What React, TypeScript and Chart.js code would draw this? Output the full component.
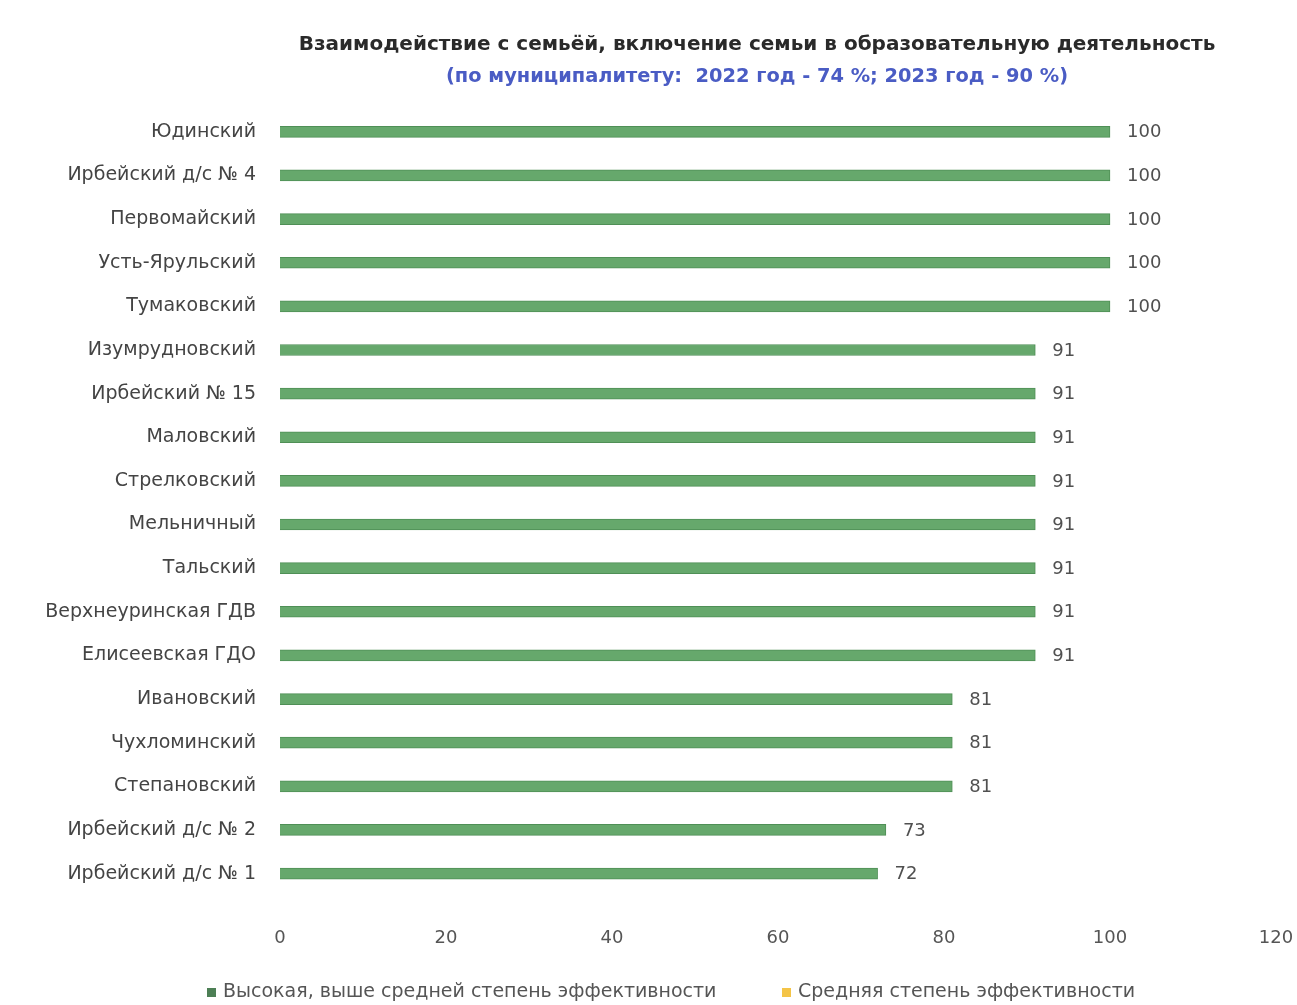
import React, { useEffect, useRef } from "react";
import { Chart, registerables } from "chart.js";

Chart.register(...registerables);

const TITLE = "Взаимодействие с семьёй, включение семьи в образовательную деятельность";
const SUBTITLE = "(по муниципалитету:  2022 год - 74 %; 2023 год - 90 %)";

const categories = [
  "Юдинский",
  "Ирбейский д/с № 4",
  "Первомайский",
  "Усть-Ярульский",
  "Тумаковский",
  "Изумрудновский",
  "Ирбейский № 15",
  "Маловский",
  "Стрелковский",
  "Мельничный",
  "Тальский",
  "Верхнеуринская ГДВ",
  "Елисеевская ГДО",
  "Ивановский",
  "Чухломинский",
  "Степановский",
  "Ирбейский д/с № 2",
  "Ирбейский д/с № 1",
];

const highValues = [100, 100, 100, 100, 100, 91, 91, 91, 91, 91, 91, 91, 91, 81, 81, 81, 73, 72];
const mediumValues: (number | null)[] = categories.map(() => null);

const seriesNames = [
  "Высокая, выше средней степень эффективности",
  "Средняя степень эффективности",
];

const xTicks = [0, 20, 40, 60, 80, 100, 120];

const FONT = "'DejaVu Sans', 'Noto Sans', sans-serif";

const valueLabels = {
  id: "valueLabels",
  afterDatasetsDraw(chart: any) {
    const ctx = chart.ctx;
    const meta = chart.getDatasetMeta(0);
    const data = chart.data.datasets[0].data;
    ctx.save();
    ctx.font = `18px ${FONT}`;
    ctx.fillStyle = "#505050";
    ctx.textAlign = "left";
    ctx.textBaseline = "middle";
    meta.data.forEach((bar: any, i: number) => {
      ctx.fillText(String(data[i]), bar.x + 17, bar.y + 1);
    });
    ctx.restore();
  },
};

const header = {
  id: "header",
  afterDraw(chart: any) {
    const ctx = chart.ctx;
    ctx.save();
    ctx.textAlign = "center";
    ctx.textBaseline = "middle";
    ctx.font = `bold 20px ${FONT}`;
    ctx.fillStyle = "#2a2a2a";
    ctx.fillText(TITLE, 757, 45);
    ctx.font = `bold 19.4px ${FONT}`;
    ctx.fillStyle = "#4a5cc4";
    ctx.fillText(SUBTITLE, 757, 77);
    ctx.restore();
  },
};

const bottomLegend = {
  id: "bottomLegend",
  afterDraw(chart: any) {
    const ctx = chart.ctx;
    const positions = [207, 782];
    ctx.save();
    ctx.font = `19px ${FONT}`;
    ctx.textBaseline = "middle";
    chart.data.datasets.forEach((ds: any, i: number) => {
      const x = positions[i];
      const y = 992;
      ctx.fillStyle = ds.legendColor;
      ctx.fillRect(x, y - 4, 9, 9);
      ctx.fillStyle = "#555555";
      ctx.textAlign = "left";
      ctx.fillText(ds.label, x + 16, y);
    });
    ctx.restore();
  },
};

export default function App() {
  const canvasRef = useRef<HTMLCanvasElement | null>(null);

  useEffect(() => {
    document.body.style.margin = "0";
    const canvas = canvasRef.current;
    if (!canvas) return;
    const chart = new Chart(canvas, {
      type: "bar",
      data: {
        labels: categories,
        datasets: [
          {
            label: seriesNames[0],
            data: highValues,
            backgroundColor: "#66a86c",
            borderColor: "#4f8f56",
            borderWidth: 1,
            barThickness: 11,
            grouped: false,
            legendColor: "#4d7f55",
          } as any,
          {
            label: seriesNames[1],
            data: mediumValues,
            backgroundColor: "#f4c447",
            barThickness: 11,
            grouped: false,
            legendColor: "#f4c447",
          } as any,
        ],
      },
      options: {
        indexAxis: "y",
        animation: false,
        responsive: false,
        maintainAspectRatio: false,
        layout: { padding: { top: 110, right: 21, bottom: 24, left: 0 } },
        plugins: {
          legend: { display: false },
          title: { display: false },
          tooltip: { enabled: false },
        },
        scales: {
          x: {
            min: 0,
            max: 120,
            afterBuildTicks: (scale: any) => {
              scale.ticks = xTicks.map((v) => ({ value: v }));
            },
            afterFit: (scale: any) => {
              scale.paddingLeft = 0;
              scale.paddingRight = 0;
            },
            grid: { display: false, drawTicks: false },
            border: { display: false },
            ticks: {
              padding: 32,
              color: "#555555",
              font: { family: FONT, size: 18 },
            },
          },
          y: {
            afterFit: (scale: any) => {
              scale.width = 280;
            },
            grid: { display: false, drawTicks: false },
            border: { display: false },
            ticks: {
              padding: 24,
              color: "#444444",
              font: { family: FONT, size: 19 },
            },
          },
        },
      },
      plugins: [valueLabels, header, bottomLegend],
    });
    return () => chart.destroy();
  }, []);

  return (
    <div style={{ width: 1297, height: 1005, background: "#ffffff" }}>
      <canvas ref={canvasRef} width={1297} height={1005} style={{ display: "block" }} />
    </div>
  );
}
